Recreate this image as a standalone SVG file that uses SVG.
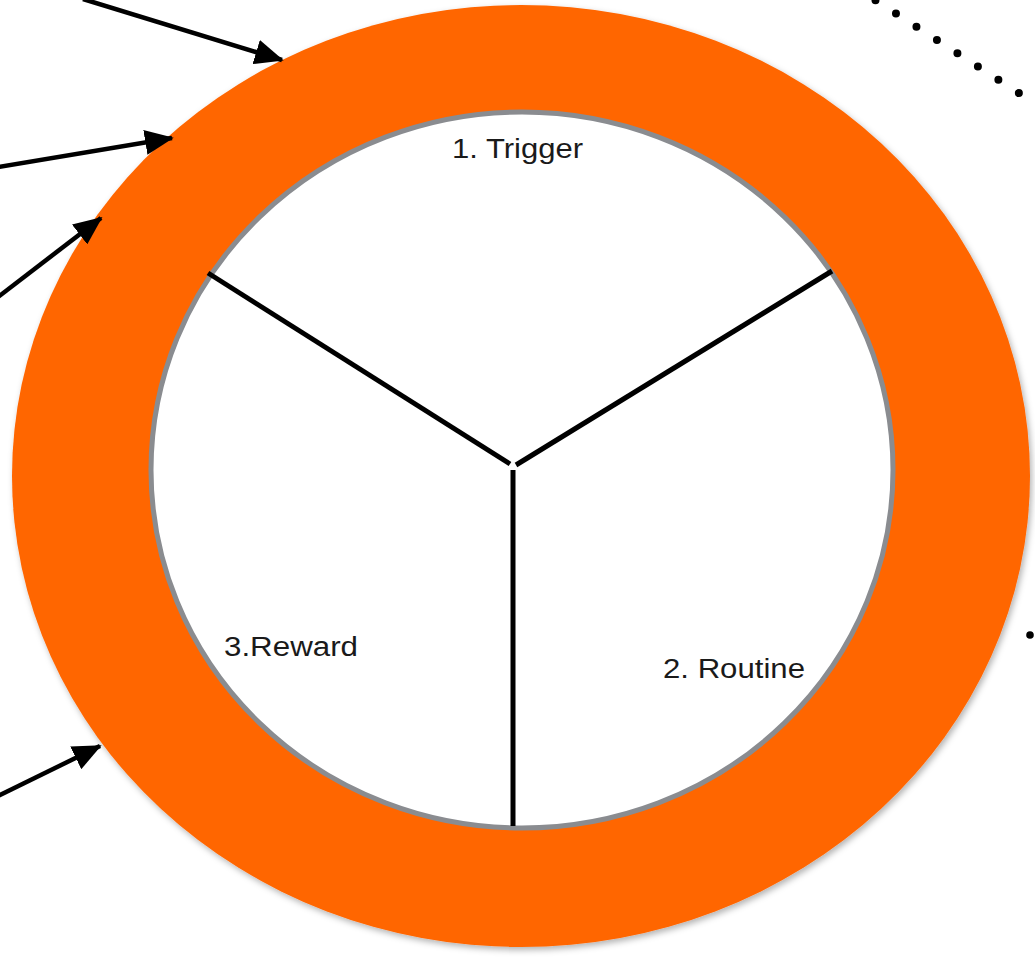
<svg xmlns="http://www.w3.org/2000/svg" width="1035" height="958" viewBox="0 0 1035 958">
  <style>
    .arrow { stroke: #000; stroke-width: 4.5; fill: none; marker-end: url(#head); }
    .spoke { stroke: #000; stroke-width: 5; stroke-linecap: butt; }
    .label { font-family: "Liberation Sans", Arial, sans-serif; font-size: 27px; fill: #1a1a1a; }
  </style>
  <defs>
    <marker id="head" markerWidth="6.4" markerHeight="5.6" refX="6" refY="2.8" orient="auto" markerUnits="strokeWidth">
      <path d="M0,0 L6.4,2.8 L0,5.6 Z" fill="#000"/>
    </marker>
    <filter id="shadow" x="-5%" y="-5%" width="110%" height="110%">
      <feGaussianBlur in="SourceAlpha" stdDeviation="3"/>
      <feOffset dx="2" dy="3" result="b"/>
      <feFlood flood-color="#000" flood-opacity="0.3"/>
      <feComposite in2="b" operator="in"/>
      <feMerge><feMergeNode/><feMergeNode in="SourceGraphic"/></feMerge>
    </filter>
  </defs>
  <rect width="1035" height="958" fill="#fff"/>

  <!-- habit loop ring -->
  <g id="ring">
    <ellipse cx="521" cy="476" rx="509" ry="471" fill="#ff6600" filter="url(#shadow)"/>
    <ellipse cx="522" cy="470" rx="371" ry="358" fill="#fff" stroke="#8a8c90" stroke-width="5"/>
  </g>

  <!-- dividing spokes -->
  <g id="spokes">
    <line class="spoke" x1="208" y1="273" x2="510" y2="464"/>
    <line class="spoke" x1="832" y1="271" x2="516" y2="465"/>
    <line class="spoke" x1="513" y1="470" x2="513" y2="826"/>
  </g>

  <g id="trigger">
    <text class="label" x="452" y="158" textLength="131" lengthAdjust="spacingAndGlyphs">1. Trigger</text>
  </g>
  <g id="routine">
    <text class="label" x="663" y="678" textLength="142" lengthAdjust="spacingAndGlyphs">2. Routine</text>
  </g>
  <g id="reward">
    <text class="label" x="224" y="656" textLength="134" lengthAdjust="spacingAndGlyphs">3.Reward</text>
  </g>

  <!-- incoming connectors -->
  <g id="connectors">
    <line class="arrow" x1="83" y1="-1" x2="282" y2="60"/>
    <line class="arrow" x1="-2" y1="167" x2="172" y2="138"/>
    <line class="arrow" x1="-2" y1="297" x2="101" y2="218"/>
    <line class="arrow" x1="-2" y1="796" x2="100" y2="746"/>
    <line x1="855" y1="-13" x2="1045" y2="110" stroke="#000" stroke-width="8" stroke-linecap="round" stroke-dasharray="0 24.4"/>
    <circle cx="1030" cy="635" r="3.8" fill="#000"/>
  </g>
</svg>
